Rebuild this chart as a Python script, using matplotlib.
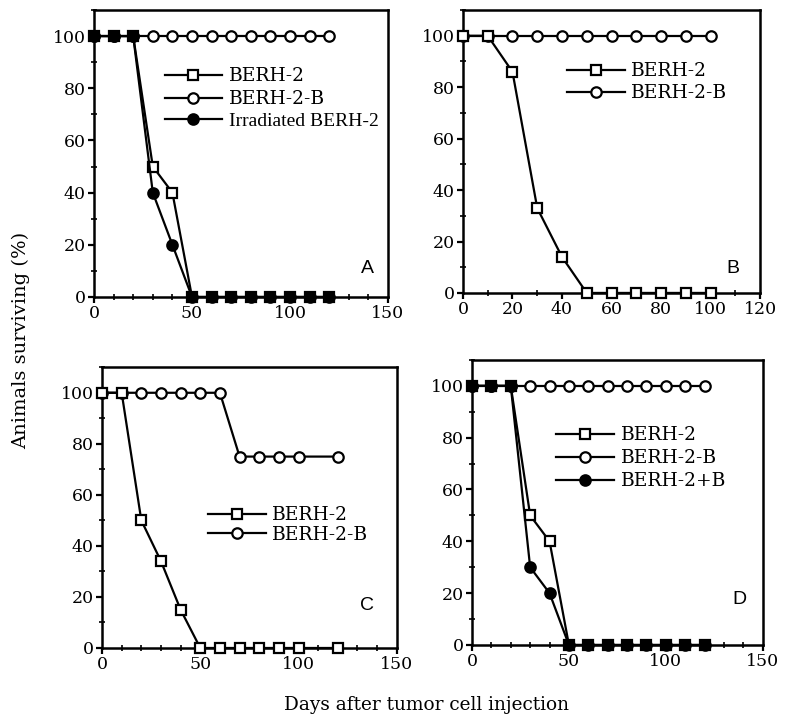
import matplotlib
matplotlib.use("Agg")
import matplotlib.pyplot as plt
from matplotlib.ticker import MultipleLocator

# panel A
days_a = [0, 10, 20, 30, 40, 50, 60, 70, 80, 90, 100, 110, 120]
a_berh2 = [100, 100, 100, 50, 40, 0, 0, 0, 0, 0, 0, 0, 0]
a_berh2b = [100, 100, 100, 100, 100, 100, 100, 100, 100, 100, 100, 100, 100]
a_irradiated = [100, 100, 100, 40, 20, 0, 0, 0, 0, 0, 0, 0, 0]

# panel B
days_b = [0, 10, 20, 30, 40, 50, 60, 70, 80, 90, 100]
b_berh2 = [100, 100, 86, 33, 14, 0, 0, 0, 0, 0, 0]
b_berh2b = [100, 100, 100, 100, 100, 100, 100, 100, 100, 100, 100]

# panel C
days_c = [0, 10, 20, 30, 40, 50, 60, 70, 80, 90, 100, 120]
c_berh2 = [100, 100, 50, 34, 15, 0, 0, 0, 0, 0, 0, 0]
c_berh2b = [100, 100, 100, 100, 100, 100, 100, 75, 75, 75, 75, 75]

# panel D
days_d = [0, 10, 20, 30, 40, 50, 60, 70, 80, 90, 100, 110, 120]
d_berh2 = [100, 100, 100, 50, 40, 0, 0, 0, 0, 0, 0, 0, 0]
d_berh2b = [100, 100, 100, 100, 100, 100, 100, 100, 100, 100, 100, 100, 100]
d_berh2_plus_b = [100, 100, 100, 30, 20, 0, 0, 0, 0, 0, 0, 0, 0]

SERIF = "DejaVu Serif"
NARROW = "Liberation Serif"
SANS = "Liberation Sans"
LW = 1.6
MS = 7.5

plt.rcParams["font.family"] = SERIF

fig = plt.figure(figsize=(7.86, 7.18), dpi=100)


def add_panel(rect, xmax, xmajor):
    ax = fig.add_axes(rect)
    ax.set_xlim(0, xmax)
    ax.set_ylim(0, 110)
    ax.xaxis.set_major_locator(MultipleLocator(xmajor))
    ax.xaxis.set_minor_locator(MultipleLocator(10))
    ax.yaxis.set_major_locator(MultipleLocator(20))
    ax.yaxis.set_minor_locator(MultipleLocator(10))
    ax.tick_params(which="major", direction="out", length=4, width=1.6,
                   labelsize=12.5, pad=2)
    ax.tick_params(which="minor", direction="inout", length=4, width=1.2)
    for sp in ax.spines.values():
        sp.set_linewidth(1.8)
    return ax


def open_sq(ax, x, y, label):
    ax.plot(x, y, color="black", lw=LW, marker="s", ms=MS, mfc="white",
            mew=1.6, label=label, clip_on=False, zorder=3)


def open_circ(ax, x, y, label):
    ax.plot(x, y, color="black", lw=LW, marker="o", ms=MS, mfc="white",
            mew=1.6, label=label, clip_on=False, zorder=2)


def filled_circ(ax, x, y, label):
    ax.plot(x, y, color="black", lw=LW, marker="o", ms=MS, mfc="black",
            mew=1.6, label=label, clip_on=False, zorder=4)


def place_legend(ax, order, anchor, spacing):
    handles, labels = ax.get_legend_handles_labels()
    h = [handles[i] for i in order]
    l = [labels[i] for i in order]
    leg = ax.legend(h, l, loc="upper left", bbox_to_anchor=anchor,
                    frameon=False, prop={"family": SERIF, "size": 13.4},
                    handlelength=3.1, handletextpad=0.35, borderpad=0,
                    labelspacing=spacing, borderaxespad=0)
    return leg


# A
axA = add_panel([0.1196, 0.5864, 0.374, 0.3997], 150, 50)
open_circ(axA, days_a, a_berh2b, "BERH-2-B")
open_sq(axA, days_a, a_berh2, "BERH-2")
filled_circ(axA, days_a, a_irradiated, "Irradiated BERH-2")
legA = place_legend(axA, [1, 0, 2], (0.24, 0.80), 0.25)
legA.get_texts()[2].set_fontfamily(NARROW)
legA.get_texts()[2].set_fontsize(14)
axA.text(0.93, 0.1, "A", transform=axA.transAxes, family=SANS, fontsize=14,
         ha="center", va="center")

# B
axB = add_panel([0.589, 0.592, 0.378, 0.394], 120, 20)
open_circ(axB, days_b, b_berh2b, "BERH-2-B")
open_sq(axB, days_b, b_berh2, "BERH-2")
place_legend(axB, [1, 0], (0.35, 0.815), 0.2)
axB.text(0.91, 0.088, "B", transform=axB.transAxes, family=SANS, fontsize=14,
         ha="center", va="center")

# C
axC = add_panel([0.1298, 0.0975, 0.375, 0.391], 150, 50)
open_circ(axC, days_c, c_berh2b, "BERH-2-B")
open_sq(axC, days_c, c_berh2, "BERH-2")
place_legend(axC, [1, 0], (0.36, 0.505), 0.08)
axC.text(0.9, 0.15, "C", transform=axC.transAxes, family=SANS, fontsize=14,
         ha="center", va="center")

# D
axD = add_panel([0.6005, 0.1017, 0.370, 0.397], 150, 50)
open_circ(axD, days_d, d_berh2b, "BERH-2-B")
open_sq(axD, days_d, d_berh2, "BERH-2")
filled_circ(axD, days_d, d_berh2_plus_b, "BERH-2+B")
place_legend(axD, [1, 0, 2], (0.29, 0.768), 0.28)
axD.text(0.92, 0.16, "D", transform=axD.transAxes, family=SANS, fontsize=14,
         ha="center", va="center")

fig.text(0.027, 0.526, "Animals surviving (%)", rotation=90, ha="center",
         va="center", fontsize=14, family=SERIF)
fig.text(0.543, 0.018, "Days after tumor cell injection", ha="center",
         va="center", fontsize=13.3, family=SERIF)

fig.savefig("out.png", dpi=100)
